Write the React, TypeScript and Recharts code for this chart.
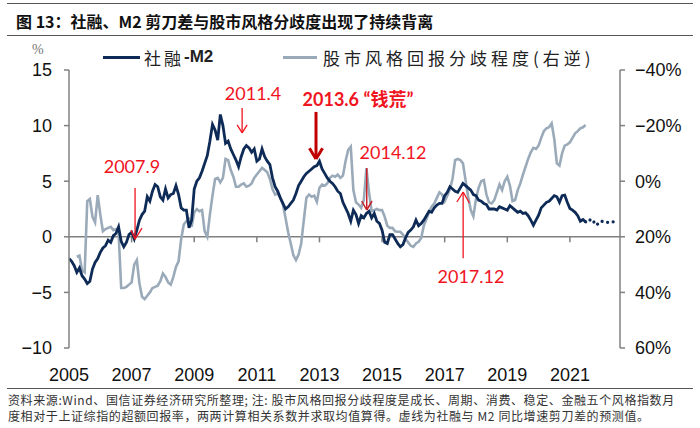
import * as React from 'react';
import { LineChart, Line, XAxis, YAxis, ReferenceLine, ReferenceDot } from 'recharts';

// monthly values starting Jan 2005 (index 0)
const startYear = 2005;

// 社融-M2 (%), left axis
const gapValues = [
  -1.95, -2.2, -2.6, -3.2, -2.8, -3.5, -3.8, -4.2, -4.0, -2.9,
  -2.3, -1.95, -1.4, -1.0, -0.8, -0.3, -0.5, 0.1, 0.3, 0.9,
  -0.4, -0.9, -0.5, 0.2, 0.4, -0.2, 0.6, 1.5, 2.0, 2.3,
  3.6, 3.2, 4.1, 4.7, 4.5, 3.6, 3.3, 4.3, 3.5, 3.8,
  3.9, 4.6, 3.8, 2.6, 2.4, 2.4, 0.8, 1.5, 4.3, 5.0,
  5.3, 5.9, 6.6, 7.3, 8.6, 10.1, 9.6, 8.7, 11.0, 10.0,
  8.4, 8.6, 7.9, 7.4, 6.9, 6.3, 7.2, 7.9, 8.2, 8.0,
  7.6, 7.9, 6.8, 7.0, 7.9, 7.2, 6.8, 6.5, 5.3, 4.5,
  4.1, 3.5, 3.0, 2.5, 2.7, 3.0, 3.3, 3.9, 4.6, 5.0,
  5.4, 5.7, 5.9, 6.1, 6.3, 6.4, 6.8, 6.1, 5.7, 5.3,
  5.0, 4.8, 4.5, 4.1, 3.9, 3.1, 2.6, 2.1, 1.4, 2.4,
  2.0, 1.2, 1.9, 1.7, 2.1, 2.3, 1.7, 2.1, 1.4, 1.2,
  0.6, -0.5, -0.6, 0.2, 0.2, -0.2, -0.6, -0.9, -0.7, -0.1,
  0.4, 0.6, 0.9, 1.5, 1.0, 1.2, 1.5, 1.9, 2.3, 2.2,
  2.6, 2.85, 3.0, 3.0, 3.7, 4.0, 4.5, 4.3, 4.1, 4.0,
  4.4, 4.8, 4.6, 4.4, 4.2, 3.8, 3.7, 3.3, 3.2, 3.0,
  2.9, 2.5, 2.5, 2.5, 2.4, 2.7, 2.6, 2.5, 2.4, 2.8,
  2.6, 2.4, 2.2, 2.3, 2.1, 2.15, 1.9, 1.5, 1.05, 1.5,
  1.95, 2.6, 2.85, 3.1, 3.2, 3.45, 3.7, 3.6, 3.1, 3.7,
  3.75, 3.1, 2.55, 2.4, 2.2, 1.9, 1.4, 1.55, 1.35,
];

// forecast (dotted), starts at month 198
const forecastStart = 198;
const forecastValues = [1.35, 1.3, 1.6, 1.4, 1.05, 1.2, 1.4, 1.35, 1.3, 1.3, 1.35, 1.35];

// 股市风格回报分歧程度 (%), right axis reversed, starts at month 3
const styleStart = 3;
const styleValues = [
  27.2, 26.8, 32, 32.8, 7.2, 6.4, 12.8,
  14.8, 5, 12, 18, 17.2, 16.8, 16.4, 17.6, 17.2, 18.4,
  38.4, 38.4, 38, 37.2, 36.4, 30, 28.4, 36.8, 41.6, 42.4,
  41.2, 40, 38.4, 38, 37.6, 36, 33.2, 34.4, 36.4, 37.2,
  34.4, 30.8, 28.8, 20.8, 15.6, 14.4, 13.6, 16.4, 11.2, 10,
  10.8, 10.4, 18, 20, 12, 5.2, -0.8, -1.2, 0.4, -1.2,
  -8, -7.6, -4, -1.6, 2, 2, 1.2, 0.8, 2, 1.6,
  0.8, -1.2, -2.4, -3.6, -4.8, -4, -3.2, -0.8, 2.8, 4.8,
  4.4, 6, 8.4, 13.2, 18.4, 22.4, 26.6, 28.4, 26.4, 22.4,
  14, 6, 4.8, 5.6, 5.2, 7.4, 2.4, 1.2, 1.6, 0.8,
  -1.2, -2, -1.6, -2.4, -1.2, -2, -7.2, -11.2, -12.4, 3.2,
  7.6, 8.4, 9.6, 6.8, -4.6, 4, 10.8, 10.4, 10, 10.4,
  10.4, 12.8, 16, 16.8, 16.8, 18, 18.2, 18.2, 19.2, 20.8,
  22, 23.2, 23.6, 22.4, 21.8, 20.4, 16, 13.6, 11.2, 9.2,
  8, 6, 4, 4.8, 7.2, 5.2, 2.8, -0.8, -7.6, -8,
  -7.6, -6.4, -0.4, 5.6, 10.4, 12.6, 6.4, 2.4, 0, -0.4,
  4.8, 7.6, 8, 6.8, 4, 1.2, 3.2, 0, -1.6, 1.6,
  7.2, 6.8, 3.2, 0.8, -2.4, -5.2, -8, -10.4, -12, -11.6,
  -12.8, -15.6, -18, -19, -19.4, -20.8, -15.2, -6.4, -5.6, -10,
  -12.8, -13.2, -14, -15.6, -17.2, -18, -19, -19.4, -20.2,
];

const xTicks = [2005, 2007, 2009, 2011, 2013, 2015, 2017, 2019, 2021];
const leftTicks = [-10, -5, 0, 5, 10, 15];
const rightTicks = [-40, -20, 0, 20, 40, 60];

const monthCount = forecastStart + forecastValues.length;
const data = Array.from({ length: monthCount }, (_, m) => ({
  t: startYear + m / 12,
  gap: m < gapValues.length ? gapValues[m] : null,
  style: m >= styleStart && m - styleStart < styleValues.length ? styleValues[m - styleStart] : null,
  forecast: m >= forecastStart ? forecastValues[m - forecastStart] : null,
}));

const NAVY = '#0e2a56';
const GREY = '#9aaab9';
const RED = '#f0141e';
const DARKRED = '#c00000';
const AXIS = '#808080';

const minus = (v: number) => String(v).replace('-', '\u2212');

const arrows = [
  { shaft: [[2007.11, 4.39], [2007.11, -0.21]], head: [[2006.98, 0.6], [2007.11, -0.21], [2007.33, 0.78]], color: RED, w: 1.3 },
  { shaft: [[2010.53, 11.59], [2010.53, 9.34]], head: [[2010.37, 10.06], [2010.53, 9.34], [2010.69, 10.06]], color: RED, w: 1.3 },
  { shaft: [[2012.89, 11.23], [2012.89, 7.1]], head: [[2012.68, 7.96], [2012.89, 7.0], [2013.1, 7.96]], color: DARKRED, w: 3 },
  { shaft: [[2014.51, 6.19], [2014.51, 2.41]], head: [[2014.35, 3.22], [2014.51, 2.41], [2014.68, 3.22]], color: '#c8202a', w: 1.5 },
  { shaft: [[2017.59, -1.92], [2017.59, 4.03]], head: [[2017.39, 3.13], [2017.59, 4.03], [2017.79, 3.04]], color: RED, w: 1.3 },
];

const notes = [
  { x: 2007.01, y: 6.28, text: '2007.9', bold: false },
  { x: 2010.88, y: 12.86, text: '2011.4', bold: false },
  { x: 2014.23, y: 12.32, text: '2013.6 \u201C钱荒\u201D', bold: true },
  { x: 2015.35, y: 7.54, text: '2014.12', bold: false },
  { x: 2017.84, y: -3.54, text: '2017.12', bold: false },
];

const seg = (a: number[], b: number[]) => [{ x: a[0], y: a[1] }, { x: b[0], y: b[1] }];

const App = () => (
  <div style={{ position: 'absolute', left: 0, top: 0, width: 700, height: 428, background: '#fff', fontFamily: '"Noto Sans CJK SC", sans-serif' }}>
    <div style={{ position: 'absolute', left: 7, top: 3, width: 686, borderTop: '1.5px solid #555' }} />
    <div style={{ position: 'absolute', left: 16, top: 9, fontSize: 16, fontWeight: 700, color: '#111', whiteSpace: 'nowrap', lineHeight: '24px' }}>
      图 13：社融、M2 剪刀差与股市风格分歧度出现了持续背离
    </div>
    <div style={{ position: 'absolute', left: 7, top: 35, width: 686, borderTop: '1.5px solid #555' }} />

    <div style={{ position: 'absolute', left: 32, top: 42, fontSize: 14, color: '#777', fontFamily: '"Liberation Serif", serif' }}>%</div>
    <div style={{ position: 'absolute', left: 103, top: 47, height: 20, display: 'flex', alignItems: 'center', whiteSpace: 'nowrap', color: '#222' }}>
      <span style={{ display: 'inline-block', width: 37, height: 3, background: NAVY, marginRight: 4 }} />
      <span style={{ fontSize: 17, letterSpacing: 3 }}>社融</span>
      <span style={{ fontSize: 17, fontFamily: '"Liberation Sans", Arial, sans-serif', fontWeight: 700 }}>-M2</span>
    </div>
    <div style={{ position: 'absolute', left: 283, top: 47, height: 20, display: 'flex', alignItems: 'center', whiteSpace: 'nowrap' }}>
      <span style={{ display: 'inline-block', width: 34, height: 3, background: GREY, marginRight: 6 }} />
      <span style={{ fontSize: 17, letterSpacing: 4, color: '#222' }}>股市风格回报分歧程度(右逆)</span>
    </div>

    <div style={{ position: 'absolute', left: 0, top: 0 }}>
      <LineChart
        width={700}
        height={428}
        data={data}
        margin={{ top: 70, right: 20, left: 29, bottom: 50 }}
        style={{ fontFamily: '"Liberation Sans", Arial, sans-serif' }}
      >
        <XAxis
          dataKey="t"
          type="number"
          domain={[2005, 2022.6]}
          ticks={xTicks}
          allowDataOverflow
          axisLine={false}
          tickLine={false}
          tickSize={6}
          tickMargin={14}
          height={30}
          tick={{ fontSize: 18, fill: '#111' }}
        />
        <YAxis
          yAxisId="left"
          domain={[-10, 15]}
          ticks={leftTicks}
          width={40}
          axisLine={{ stroke: AXIS, strokeWidth: 1.5 }}
          tickLine={{ stroke: AXIS, strokeWidth: 1.5 }}
          tickSize={5}
          tickMargin={12}
          tickFormatter={minus}
          tick={{ fontSize: 18, fill: '#111' }}
        />
        <YAxis
          yAxisId="right"
          orientation="right"
          domain={[-40, 60]}
          reversed
          ticks={rightTicks}
          width={60}
          axisLine={{ stroke: AXIS, strokeWidth: 1.5 }}
          tickLine={{ stroke: AXIS, strokeWidth: 1.5 }}
          tickSize={5}
          tickMargin={10}
          tickFormatter={(v: number) => `${minus(v)}%`}
          tick={{ fontSize: 18, fill: '#111' }}
        />
        <ReferenceLine yAxisId="left" y={0} stroke={AXIS} strokeWidth={1.5} />
        {xTicks.slice(1).map((yr) => (
          <ReferenceLine key={yr} yAxisId="left" segment={[{ x: yr, y: 0 }, { x: yr, y: -0.5 }]} stroke={AXIS} strokeWidth={1.5} />
        ))}
        <Line yAxisId="right" dataKey="style" stroke={GREY} strokeWidth={2.6} dot={false} type="linear" isAnimationActive={false} />
        <Line yAxisId="left" dataKey="gap" stroke={NAVY} strokeWidth={2.8} dot={false} type="linear" isAnimationActive={false} />
        <Line
          yAxisId="left"
          dataKey="forecast"
          stroke={NAVY}
          strokeWidth={3.2}
          strokeDasharray="0.1 5.5"
          strokeLinecap="round"
          dot={false}
          type="linear"
          isAnimationActive={false}
        />
        {arrows.map((a, i) => (
          <ReferenceLine key={`s${i}`} yAxisId="left" segment={seg(a.shaft[0], a.shaft[1])} stroke={a.color} strokeWidth={a.w} />
        ))}
        {arrows.map((a, i) => (
          <ReferenceLine key={`h1${i}`} yAxisId="left" segment={seg(a.head[0], a.head[1])} stroke={a.color} strokeWidth={a.w} />
        ))}
        {arrows.map((a, i) => (
          <ReferenceLine key={`h2${i}`} yAxisId="left" segment={seg(a.head[1], a.head[2])} stroke={a.color} strokeWidth={a.w} />
        ))}
        {notes.map((n) => (
          <ReferenceDot
            key={n.text}
            yAxisId="left"
            x={n.x}
            y={n.y}
            r={0}
            fill="none"
            stroke="none"
            label={{
              value: n.text,
              position: 'center',
              fill: RED,
              fontSize: 18,
              fontWeight: n.bold ? 700 : 400,
              fontFamily: 'Lato, "Noto Sans CJK SC", sans-serif',
            }}
          />
        ))}
      </LineChart>
    </div>

    <div style={{ position: 'absolute', left: 7, top: 388, width: 686, borderTop: '1.5px solid #555' }} />
    <div style={{ position: 'absolute', left: 8, top: 392, fontSize: 12, lineHeight: '16px', color: '#333', whiteSpace: 'nowrap', letterSpacing: 0.6 }}>
      <div>资料来源:Wind、国信证券经济研究所整理; 注: 股市风格回报分歧程度是成长、周期、消费、稳定、金融五个风格指数月</div>
      <div>度相对于上证综指的超额回报率，两两计算相关系数并求取均值算得。虚线为社融与 M2 同比增速剪刀差的预测值。</div>
    </div>
  </div>
);

export default App;
